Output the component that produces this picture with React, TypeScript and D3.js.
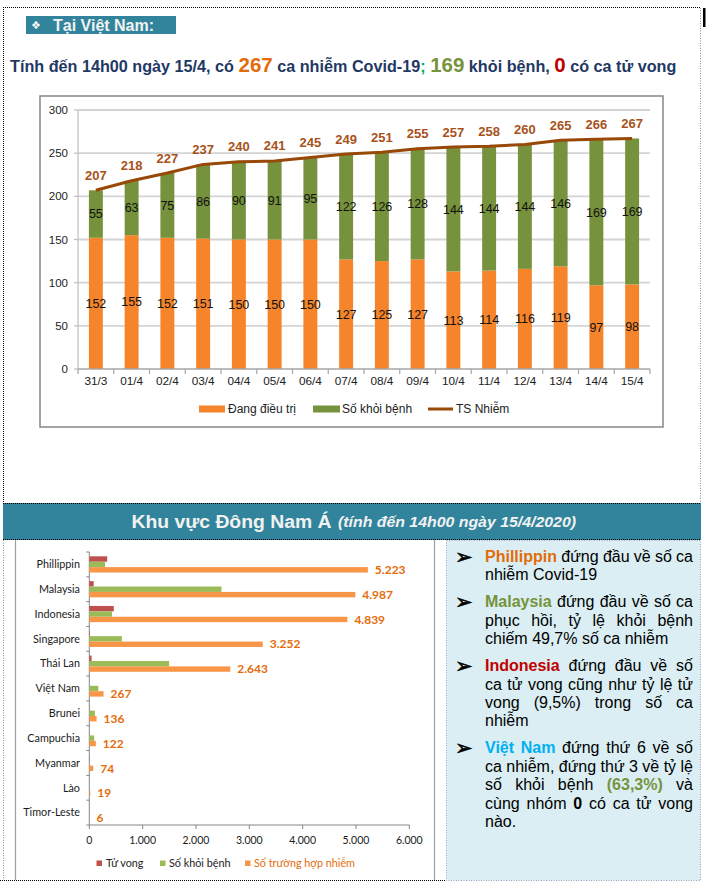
import React from 'react';
import * as d3 from 'd3';

// ---------- Data: Việt Nam ----------
const dates = ['31/3', '01/4', '02/4', '03/4', '04/4', '05/4', '06/4', '07/4', '08/4', '09/4', '10/4', '11/4', '12/4', '13/4', '14/4', '15/4'];
const treating = [152, 155, 152, 151, 150, 150, 150, 127, 125, 127, 113, 114, 116, 119, 97, 98];
const recovered = [55, 63, 75, 86, 90, 91, 95, 122, 126, 128, 144, 144, 144, 146, 169, 169];
const totals = [207, 218, 227, 237, 240, 241, 245, 249, 251, 255, 257, 258, 260, 265, 266, 267];
const yTicksVN = [0, 50, 100, 150, 200, 250, 300];
const legendVN = ['Đang điều trị', 'Số khỏi bệnh', 'TS Nhiễm'];

// ---------- Data: Đông Nam Á ----------
const countries = ['Phillippin', 'Malaysia', 'Indonesia', 'Singapore', 'Thái Lan', 'Việt Nam', 'Brunei', 'Campuchia', 'Myanmar', 'Lào', 'Timor-Leste'];
const cases = [5223, 4987, 4839, 3252, 2643, 267, 136, 122, 74, 19, 6];
const recoveredSEA = [295, 2478, 426, 611, 1497, 169, 105, 92, 2, 0, 1];
const deaths = [335, 82, 459, 10, 43, 0, 1, 0, 4, 0, 0];
const xTicksSEA = [0, 1000, 2000, 3000, 4000, 5000, 6000];
const legendSEA = ['Tử vong', 'Số khỏi bệnh', 'Số trường hợp nhiễm'];

const FONT = "'Liberation Sans', Arial, sans-serif";
const CAL = "Lato, 'Open Sans', sans-serif";

const C_ORANGE = '#F5842A';
const C_GREEN = '#76923C';
const C_LINE = '#984807';
const C_TSLBL = '#A8521A';
const S_RED = '#C0504D';
const S_GREEN = '#9BBB59';
const S_ORANGE = '#F79646';
const S_LBL = '#E46C0A';

type Seg = { t: string; c?: string; b?: boolean };
const notes: Seg[][][] = [
  [
    [{ t: 'Phillippin', c: '#E36C09', b: true }, { t: ' đứng đầu về số ca' }],
    [{ t: 'nhiễm Covid-19' }],
  ],
  [
    [{ t: 'Malaysia', c: '#77933C', b: true }, { t: ' đứng đầu về số ca' }],
    [{ t: 'phục hồi, tỷ lệ khỏi bệnh' }],
    [{ t: 'chiếm 49,7% số ca nhiễm' }],
  ],
  [
    [{ t: 'Indonesia', c: '#C00000', b: true }, { t: ' đứng đầu về số' }],
    [{ t: 'ca tử vong cũng như tỷ lệ tử' }],
    [{ t: 'vong (9,5%) trong số ca' }],
    [{ t: 'nhiễm' }],
  ],
  [
    [{ t: 'Việt Nam', c: '#00B0F0', b: true }, { t: ' đứng thứ 6 về số' }],
    [{ t: 'ca nhiễm, đứng thứ 3 về tỷ lệ' }],
    [{ t: 'số khỏi bệnh ' }, { t: '(63,3%)', c: '#77933C', b: true }, { t: ' và' }],
    [{ t: 'cùng nhóm ' }, { t: '0', b: true }, { t: ' có ca tử vong' }],
    [{ t: 'nào.' }],
  ],
];

let ctxCache: CanvasRenderingContext2D | null = null;
function measure(text: string, bold: boolean, size: number) {
  if (!ctxCache) ctxCache = document.createElement('canvas').getContext('2d');
  if (!ctxCache) return text.length * size * 0.5;
  ctxCache.font = `${bold ? 'bold ' : ''}${size}px "Liberation Sans"`;
  return ctxCache.measureText(text).width;
}

function NotesBox() {
  const left = 485;
  const width = 208;
  const size = 16;
  const lh = 18.4;
  const paraGap = 8.6;
  const out: any[] = [];
  let y = 562;
  notes.forEach((para, pi) => {
    out.push(
      <text key={'b' + pi} x={455} y={y - 5.5} dy="0.35em" fontFamily="'DejaVu Sans', sans-serif" fontSize={21} fill="#000" stroke="#000" strokeWidth={0.6}>➢</text>
    );
    para.forEach((line, li) => {
      const words: { t: string; c?: string; b?: boolean; w: number }[] = [];
      line.forEach((s) => {
        s.t.split(' ').filter((w) => w.length > 0).forEach((w) => {
          words.push({ t: w, c: s.c, b: s.b, w: measure(w, !!s.b, size) });
        });
      });
      const isLast = li === para.length - 1;
      const sum = d3.sum(words, (w) => w.w);
      const gap = isLast || words.length < 2 ? measure(' ', false, size) : (width - sum) / (words.length - 1);
      let x = left;
      words.forEach((w, wi) => {
        out.push(
          <text key={`w${pi}-${li}-${wi}`} x={x} y={y} fontFamily={FONT} fontSize={size}
            fontWeight={w.b ? 'bold' : 'normal'} fill={w.c || '#000'}>{w.t}</text>
        );
        x += w.w + gap;
      });
      y += lh;
    });
    y += paraGap;
  });
  return <g>{out}</g>;
}

function VNChart() {
  const x0 = 78, x1 = 650, yTop = 110, yBot = 369;
  const xV = d3.scaleBand<string>().domain(dates).range([x0, x1]).paddingInner(0.61).paddingOuter(0.305);
  const yV = d3.scaleLinear().domain([0, 300]).range([yBot, yTop]);
  const bw = xV.bandwidth();
  const cx = (d: string) => (xV(d) as number) + bw / 2;
  const line = d3.line<number>().x((_, i) => cx(dates[i])).y((d) => yV(d));
  const boundaries = d3.range(dates.length + 1).map((i) => x0 + i * (x1 - x0) / dates.length);

  return (
    <g>
      <rect x={40} y={96} width={623} height={331} fill="#fff" stroke="#868686" strokeWidth={1.5} />
      {yTicksVN.filter((t) => t > 0).map((t) => (
        <line key={'g' + t} x1={x0} x2={x1} y1={yV(t)} y2={yV(t)} stroke="#D4D4D4" strokeWidth={1.8} />
      ))}
      <line x1={x0} x2={x0} y1={yTop} y2={yBot} stroke="#BFBFBF" strokeWidth={1.2} />
      {yTicksVN.map((t) => (
        <g key={'yt' + t}>
          <line x1={x0 - 4} x2={x0} y1={yV(t)} y2={yV(t)} stroke="#BFBFBF" strokeWidth={1.2} />
          <text x={68} y={yV(t)} dy="0.35em" textAnchor="end" fontFamily={FONT} fontSize={11.5} fill="#222">{t}</text>
        </g>
      ))}
      {dates.map((d, i) => (
        <g key={'bar' + d}>
          <rect x={xV(d)} y={yV(treating[i])} width={bw} height={yV(0) - yV(treating[i])} fill={C_ORANGE} />
          <rect x={xV(d)} y={yV(treating[i] + recovered[i])} width={bw} height={yV(0) - yV(recovered[i])} fill={C_GREEN} />
        </g>
      ))}
      <line x1={x0} x2={x1} y1={yBot} y2={yBot} stroke="#A6A6A6" strokeWidth={1.5} />
      {boundaries.map((b, i) => (
        <line key={'xt' + i} x1={b} x2={b} y1={yBot} y2={yBot + 5} stroke="#A6A6A6" strokeWidth={1.2} />
      ))}
      {dates.map((d) => (
        <text key={'xl' + d} x={cx(d)} y={381} dy="0.35em" textAnchor="middle" fontFamily={FONT} fontSize={11.8} fill="#222">{d}</text>
      ))}
      <path d={line(totals) || ''} fill="none" stroke={C_LINE} strokeWidth={3} strokeLinejoin="round" />
      {dates.map((d, i) => (
        <g key={'lbl' + d}>
          <text x={cx(d)} y={yV(treating[i] / 2)} dy="0.35em" textAnchor="middle" fontFamily={FONT} fontSize={12.5} fill="#111">{treating[i]}</text>
          <text x={cx(d)} y={yV(treating[i] + recovered[i] / 2)} dy="0.35em" textAnchor="middle" fontFamily={FONT} fontSize={12.5} fill="#111">{recovered[i]}</text>
          <text x={cx(d)} y={yV(totals[i]) - 15} dy="0.35em" textAnchor="middle" fontFamily={FONT} fontSize={13} fontWeight="bold" fill={C_TSLBL}>{totals[i]}</text>
        </g>
      ))}
      {/* legend */}
      <g fontFamily={FONT} fontSize={12} fill="#222">
        <rect x={199} y={405.5} width={26} height={7} fill={C_ORANGE} />
        <text x={228} y={409} dy="0.35em">{legendVN[0]}</text>
        <rect x={313} y={405.5} width={27} height={7} fill={C_GREEN} />
        <text x={342} y={409} dy="0.35em">{legendVN[1]}</text>
        <line x1={428} x2={453} y1={409} y2={409} stroke={C_LINE} strokeWidth={3} />
        <text x={456} y={409} dy="0.35em">{legendVN[2]}</text>
      </g>
    </g>
  );
}

function SEAChart() {
  const xL = 89.3, xR = 409.3, yTop = 552, yBot = 825;
  const xS = d3.scaleLinear().domain([0, 6000]).range([xL, xR]);
  const yS = d3.scaleBand<string>().domain(countries).range([yTop, yBot]);
  const step = yS.step();
  const bh = 5.4;
  const fmt = (v: number) => d3.format(',')(v).replace(/,/g, '.');
  return (
    <g>
      <line x1={xL} x2={xL} y1={yTop} y2={yBot} stroke="#868686" strokeWidth={1} />
      {d3.range(countries.length + 1).map((i) => (
        <line key={'yt' + i} x1={xL - 3} x2={xL} y1={yTop + i * step} y2={yTop + i * step} stroke="#868686" strokeWidth={1} />
      ))}
      {countries.map((c, i) => {
        const g0 = (yS(c) as number) + (step - 3 * bh) / 2;
        return (
          <g key={c}>
            <rect x={xL} y={g0} width={xS(deaths[i]) - xL} height={bh} fill={S_RED} />
            <rect x={xL} y={g0 + bh} width={xS(recoveredSEA[i]) - xL} height={bh} fill={S_GREEN} />
            <rect x={xL} y={g0 + 2 * bh} width={xS(cases[i]) - xL} height={bh} fill={S_ORANGE} />
            <text x={xS(cases[i]) + 7} y={g0 + 2.5 * bh} dy="0.35em" fontFamily={CAL} fontSize={12} fontWeight="bold" fill={S_LBL}>{fmt(cases[i])}</text>
            <text x={80} y={(yS(c) as number) + step / 2} dy="0.35em" textAnchor="end" fontFamily={CAL} fontSize={10.8} fill="#1a1a1a">{c}</text>
          </g>
        );
      })}
      <line x1={xL} x2={xR} y1={yBot} y2={yBot} stroke="#868686" strokeWidth={1} />
      {xTicksSEA.map((t) => (
        <g key={'xt' + t}>
          <line x1={xS(t)} x2={xS(t)} y1={yBot} y2={yBot + 4} stroke="#868686" strokeWidth={1} />
          <text x={xS(t)} y={840} dy="0.35em" textAnchor="middle" fontFamily={CAL} fontSize={10.5} fill="#1a1a1a">{fmt(t)}</text>
        </g>
      ))}
      <g fontFamily={CAL} fontSize={10.8}>
        <rect x={96.5} y={860.5} width={5.5} height={5.5} fill={S_RED} />
        <text x={106} y={863.3} dy="0.35em" fill="#222">{legendSEA[0]}</text>
        <rect x={160} y={860.5} width={5.5} height={5.5} fill={S_GREEN} />
        <text x={169} y={863.3} dy="0.35em" fill="#222">{legendSEA[1]}</text>
        <rect x={245} y={860.5} width={5.5} height={5.5} fill={S_ORANGE} />
        <text x={254} y={863.3} dy="0.35em" fill={S_LBL}>{legendSEA[2]}</text>
      </g>
    </g>
  );
}

export default function App() {
  return (
    <svg width={706} height={884} style={{ position: 'absolute', left: 0, top: 0, background: '#fff' }}>
      <rect x={0} y={0} width={706} height={884} fill="#fff" />
      {/* outer dotted frame top section */}
      <line x1={3} x2={700} y1={7.5} y2={7.5} stroke="#000" strokeDasharray="1,1" />
      <line x1={3.5} x2={3.5} y1={7} y2={503} stroke="#000" strokeDasharray="1,1" />
      <line x1={700.5} x2={700.5} y1={8} y2={503} stroke="#7F8FA9" strokeDasharray="1,1.5" />
      <rect x={703} y={8} width={2.5} height={19} fill="#000" />

      {/* header Tại Việt Nam */}
      <rect x={26} y={16} width={150} height={18} fill="#31849B" />
      <text x={31} y={25} dy="0.35em" fontFamily="'DejaVu Sans', sans-serif" fontSize={11} fill="#fff">❖</text>
      <text x={53} y={25} dy="0.36em" fontFamily={FONT} fontSize={16} fontWeight="bold" fill="#F2F2F2">Tại Việt Nam:</text>

      {/* subtitle */}
      <text x={10} y={72} fontFamily={FONT} fontSize={16.2} fontWeight="bold" fill="#1F3864">
        <tspan>Tính đến 14h00 ngày 15/4, có </tspan>
        <tspan fontSize={20.5} fill="#E36C09">267</tspan>
        <tspan> ca nhiễm Covid-19</tspan>
        <tspan fill="#00B050">;</tspan>
        <tspan> </tspan>
        <tspan fontSize={20.5} fill="#77933C">169</tspan>
        <tspan> khỏi bệnh, </tspan>
        <tspan fontSize={20.5} fill="#C00000">0</tspan>
        <tspan> có ca tử vong</tspan>
      </text>

      <VNChart />

      {/* Southeast Asia header */}
      <rect x={3} y={503} width={698} height={37} fill="#31849B" />
      <line x1={3} x2={701} y1={503.5} y2={503.5} stroke="#000" strokeDasharray="1,1" />
      <line x1={3} x2={701} y1={539.5} y2={539.5} stroke="#000" strokeDasharray="1,1" />
      <text x={131.5} y={522} dy="0.36em" fontFamily={FONT} fontSize={18} fontWeight="bold" fill="#F2F2F2"
        textLength={200} lengthAdjust="spacingAndGlyphs">Khu vực Đông Nam Á</text>
      <text x={338} y={522} dy="0.36em" fontFamily={FONT} fontSize={15} fontWeight="bold" fontStyle="italic" fill="#F2F2F2"
        textLength={238} lengthAdjust="spacingAndGlyphs">(tính đến 14h00 ngày 15/4/2020)</text>

      {/* lower frames */}
      <line x1={3.5} x2={3.5} y1={540} y2={880} stroke="#7F8FA9" strokeDasharray="1,1.5" />
      <line x1={15.5} x2={15.5} y1={540} y2={880} stroke="#A0A0A0" strokeWidth={1.2} />
      <line x1={434.5} x2={434.5} y1={540} y2={880} stroke="#A0A0A0" strokeWidth={1.2} />
      <line x1={0} x2={446} y1={880.5} y2={880.5} stroke="#000" strokeDasharray="1,1" />
      <rect x={446.5} y={540.5} width={254} height={340} fill="#DAEEF3" stroke="#9AA5B5" strokeDasharray="1,1.5" />

      <SEAChart />
      <NotesBox />
    </svg>
  );
}
